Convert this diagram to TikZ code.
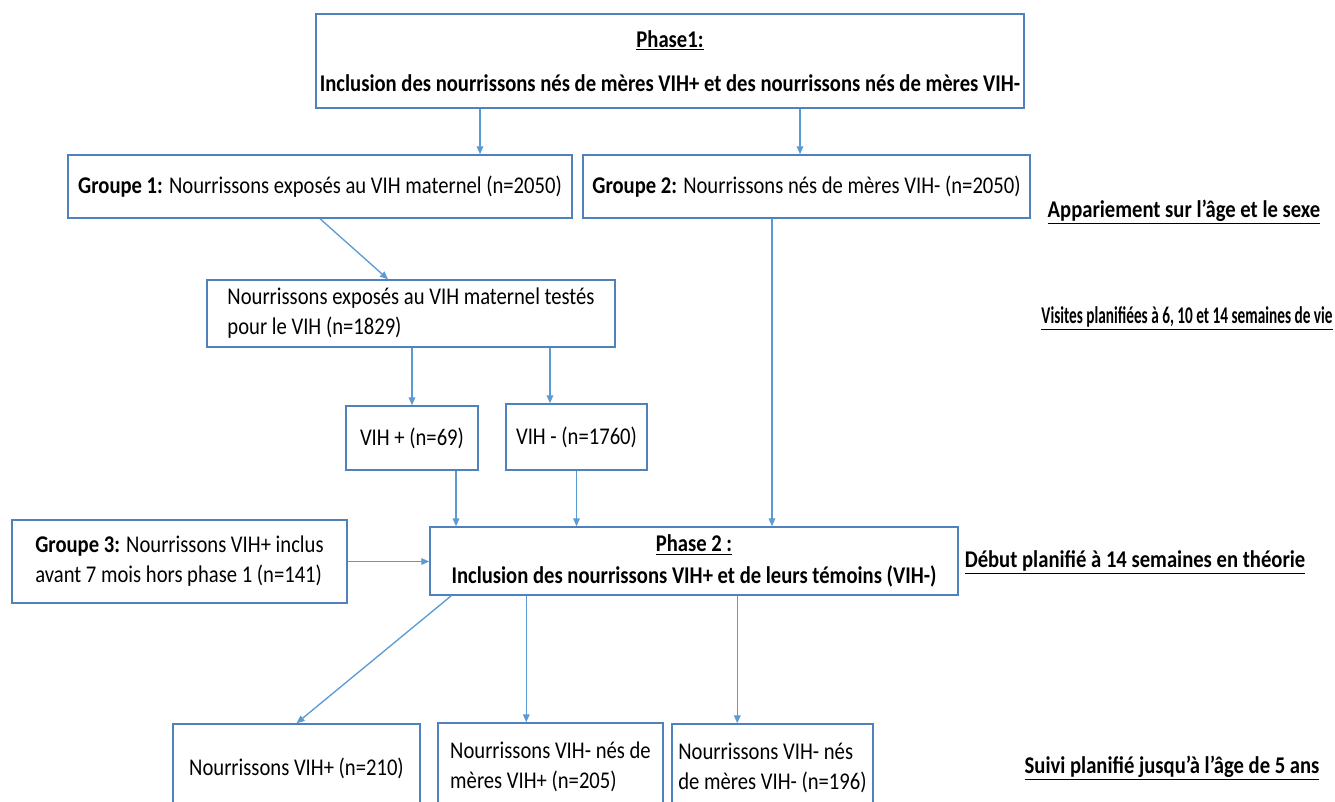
\documentclass[tikz,border=0pt]{standalone}
\usepackage{fontspec}
\setmainfont[FakeStretch=0.86]{Carlito}
\usetikzlibrary{arrows.meta}
\definecolor{boxblue}{RGB}{79,129,189}
\definecolor{arrblue}{RGB}{91,155,213}
\tikzset{
  box/.style={draw=boxblue, line width=1.1pt, fill=white, inner sep=3pt, font=\fontsize{18}{22.5}\selectfont},
  arr/.style={draw=arrblue, line width=1pt, -{Triangle[length=6pt,width=5pt]}},
  side/.style={font=\fontsize{18}{22}\selectfont\bfseries, inner sep=0pt}
}
\begin{document}
\begin{tikzpicture}[x=0.75pt, y=-0.75pt]
\useasboundingbox (0,0) rectangle (1335,801);
\clip (0,0) rectangle (1335,801);
% boxes
\node[box, minimum width=525pt, minimum height=70.5pt, align=center] (p1) at (670,61)
  {\textbf{\underline{Phase1:}}\\[10pt]\textbf{Inclusion des nourrissons nés de mères VIH+ et des nourrissons nés de mères VIH-}};
\node[box, minimum width=378pt, minimum height=47.25pt] (g1) at (320,186.5)
  {\textbf{Groupe 1:} Nourrissons exposés au VIH maternel (n=2050)};
\node[box, minimum width=335.25pt, minimum height=47.25pt] (g2) at (806.5,186.5)
  {\textbf{Groupe 2:} Nourrissons nés de mères VIH- (n=2050)};
\node[box, minimum width=306pt, minimum height=50.25pt, align=left] (t) at (411,313.5)
  {Nourrissons exposés au VIH maternel testés\\pour le VIH (n=1829)};
\node[box, minimum width=99pt, minimum height=48pt] (vp) at (412,438) {VIH + (n=69)};
\node[box, minimum width=105.75pt, minimum height=49.5pt] (vm) at (576.5,437) {VIH - (n=1760)};
\node[box, minimum width=251.25pt, minimum height=62.25pt, align=left] (g3) at (179.5,561.5)
  {\textbf{Groupe 3:} Nourrissons VIH+ inclus\\avant 7 mois hors phase 1 (n=141)};
\node[box, minimum width=396pt, minimum height=51pt, align=center] (p2) at (694,561)
  {\textbf{\underline{Phase 2 :}}\\[1pt]\textbf{Inclusion des nourrissons VIH+ et de leurs témoins (VIH-)}};
\node[box, minimum width=185.25pt, minimum height=66pt] (b1) at (296.5,768) {Nourrissons VIH+ (n=210)};
\node[box, minimum width=168.75pt, minimum height=66pt, align=left] (b2) at (550.5,767)
  {Nourrissons VIH- nés de\\mères VIH+ (n=205)};
\node[box, minimum width=150.75pt, minimum height=66pt, align=left] (b3) at (772.5,768)
  {Nourrissons VIH- nés\\de mères VIH- (n=196)};
% side labels
\node[side] (s1) at (1184,212) {\underline{Appariement sur l'âge et le sexe}};
\node[side] (s2) at (1187,318) {\scalebox{0.74}[1]{\underline{Visites planifiées à 6, 10 et 14 semaines de vie}}};
\node[side] (s3) at (1135,562) {\underline{Début planifié à 14 semaines en théorie}};
\node[side] (s4) at (1172,768) {\underline{Suivi planifié jusqu’à l’âge de 5 ans}};
% connectors
\draw[arr] ([xshift=-142.5pt]p1.south) -- ([xshift=-142.5pt]p1.south |- g1.north);
\draw[arr] ([xshift=97.5pt]p1.south) -- ([xshift=97.5pt]p1.south |- g2.north);
\draw[arr] (g1.south) -- ([xshift=-17.25pt]t.north);
\draw[arr] (t.south -| vp.north) -- (vp.north);
\draw[arr] ([xshift=-19.9pt]vm.north |- t.south) -- ([xshift=-19.9pt]vm.north);
\draw[arr] ([xshift=33pt]vp.south) -- ([xshift=33pt]vp.south |- p2.north);
\draw[arr] (vm.south) -- (vm.south |- p2.north);
\draw[arr] ([xshift=-25.9pt]g2.south) -- ([xshift=-25.9pt]g2.south |- p2.north);
\draw[arr] (g3.east) -- (g3.east -| p2.west);
\draw[arr] ([xshift=16.5pt]p2.south west) -- (b1.north);
\draw[arr] ([xshift=72.75pt]p2.south west) -- ([xshift=72.75pt]p2.south west |- b2.north);
\draw[arr] ([xshift=231pt]p2.south west) -- ([xshift=231pt]p2.south west |- b3.north);
\end{tikzpicture}
\end{document}
